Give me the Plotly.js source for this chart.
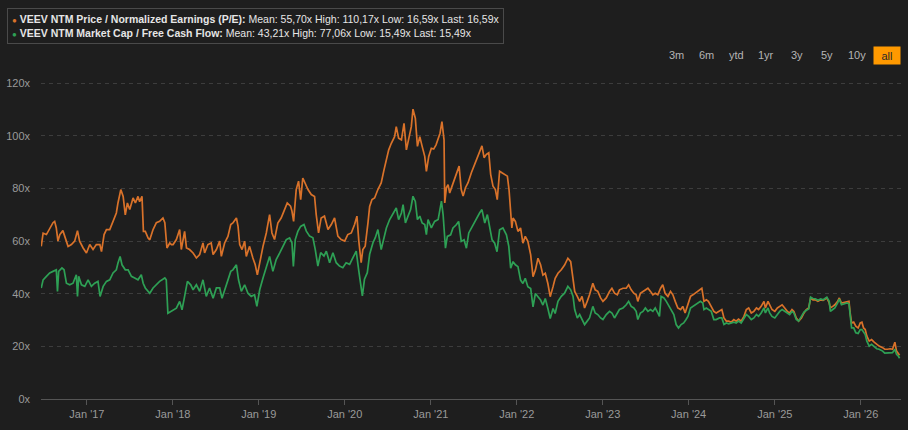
<!DOCTYPE html>
<html>
<head>
<meta charset="utf-8">
<script src="https://cdn.plot.ly/plotly-3.0.1.min.js"></script>
<style>
  html, body { margin: 0; padding: 0; background: #1e1e1e; }
  #chart { width: 908px; height: 430px; }
</style>
</head>
<body>
<div id="chart"></div>
<script>
// ---- Data (time as decimal years, values as multiples) ----
const PE_NAME = "VEEV NTM Price / Normalized Earnings (P/E)";
const FCF_NAME = "VEEV NTM Market Cap / Free Cash Flow";
const PE_STATS = ["55,70x", "110,17x", "16,59x", "16,59x"];
const FCF_STATS = ["43,21x", "77,06x", "15,49x", "15,49x"];
const Y_TICKS = [0, 20, 40, 60, 80, 100, 120];
const Y_TICK_LABELS = ["0x", "20x", "40x", "60x", "80x", "100x", "120x"];
const RANGE_BUTTONS = ["3m", "6m", "ytd", "1yr", "3y", "5y", "10y", "all"];

const PE_T = [
2016.472,2016.492,2016.531,2016.569,2016.608,2016.628,2016.647,2016.666,2016.686,2016.724,2016.744,2016.783,2016.821,2016.860,2016.891,2016.918,2016.957,2016.996,2017.035,2017.073,2017.112,2017.151,2017.170,2017.201,2017.228,2017.267,2017.306,2017.345,2017.364,2017.395,2017.422,2017.449,2017.473,2017.500,2017.538,2017.566,2017.597,2017.616,2017.643,2017.659,2017.682,2017.713,2017.732,2017.771,2017.810,2017.848,2017.887,2017.907,2017.934,2017.965,2017.984,
2018.003,2018.042,2018.081,2018.100,2018.139,2018.159,2018.197,2018.236,2018.275,2018.314,2018.352,2018.372,2018.410,2018.449,2018.469,2018.507,2018.546,2018.566,2018.604,2018.643,2018.674,2018.701,2018.740,2018.759,2018.779,2018.806,2018.837,2018.856,2018.895,2018.934,2018.961,2018.984,2019.011,2019.050,2019.089,2019.128,2019.155,2019.186,2019.224,2019.263,2019.294,2019.333,2019.372,2019.387,2019.407,2019.438,2019.465,
2019.488,2019.515,2019.542,2019.573,2019.612,2019.651,2019.670,2019.697,2019.728,2019.767,2019.806,2019.845,2019.883,2019.922,2019.961,2020.000,2020.038,2020.077,2020.116,2020.143,2020.166,2020.193,2020.213,2020.240,2020.271,2020.290,2020.318,2020.349,2020.387,2020.426,2020.457,2020.484,2020.511,2020.542,2020.581,2020.600,2020.628,2020.659,2020.690,2020.717,2020.744,2020.775,2020.794,2020.821,2020.845,2020.872,2020.899,2020.930,2020.949,2020.976,2021.007,
2021.035,2021.062,2021.108,2021.131,2021.155,
2021.162,2021.182,2021.201,2021.221,2021.248,2021.279,2021.310,2021.329,2021.356,2021.376,2021.403,2021.434,2021.473,2021.511,2021.542,2021.569,2021.597,2021.620,2021.647,2021.674,2021.697,2021.724,2021.752,2021.775,2021.802,2021.829,2021.860,2021.891,2021.911,2021.930,2021.945,2021.957,2021.984,2022.015,2022.046,2022.073,2022.100,2022.131,2022.162,2022.190,2022.217,2022.248,2022.279,2022.306,2022.333,2022.364,2022.391,2022.422,2022.449,
2022.480,2022.519,2022.558,2022.597,2022.628,2022.655,2022.674,2022.705,2022.732,2022.759,2022.790,2022.821,2022.848,2022.887,2022.914,2022.945,2022.976,2023.003,2023.042,2023.081,2023.108,2023.139,2023.170,2023.197,2023.236,2023.275,2023.302,2023.333,2023.364,2023.391,2023.410,2023.441,2023.469,2023.496,2023.527,2023.558,2023.585,2023.612,2023.643,2023.674,2023.701,2023.728,2023.759,2023.790,2023.817,2023.845,2023.876,2023.907,2023.934,2023.961,2023.992,
2024.023,2024.050,2024.077,2024.108,2024.139,2024.155,2024.178,2024.205,2024.232,2024.263,2024.294,2024.321,2024.360,2024.387,2024.411,2024.438,2024.465,2024.496,2024.527,2024.554,2024.581,2024.612,2024.643,2024.670,2024.697,2024.728,2024.759,2024.787,2024.814,2024.844,2024.876,2024.891,2024.922,2024.941,2024.969,2025.000,2025.031,2025.058,2025.085,2025.116,2025.147,2025.174,2025.201,2025.224,2025.252,2025.279,2025.310,2025.341,2025.368,2025.395,2025.418,2025.445,2025.472,2025.503,2025.535,2025.562,
2025.577,2025.608,2025.635,2025.647,2025.674,2025.701,2025.732,2025.751,2025.778,2025.809,2025.840,2025.864,2025.879,2025.895,2025.918,2025.945,2025.972,2025.995,2026.015,2026.034,2026.054,2026.073,2026.100,2026.127,2026.158,2026.189,2026.216,2026.255,2026.282,2026.313,2026.344,2026.371,2026.399,2026.418,2026.437,2026.453
];
const PE = [
58,63,62.5,65,67,67.5,65,60,62.5,64,62,58,58.7,60,64,60,57.4,55.5,58.7,56.8,58.7,58.7,56,62.5,64.4,64.4,67.5,70.7,74.5,79.6,77,70,74.5,72,76.4,74.5,77,75,77,63.7,63.7,61.2,60.5,64.4,67,67.5,68.8,67,57.4,59.3,58.7,
58.7,60.6,64.4,56.8,63.7,57.4,56.8,55.5,53.6,54.9,59.3,55.5,58.7,59.3,54.9,56.8,60,54.2,59.3,61.8,66.3,66.9,68.8,65.6,58.7,56.8,60,54.2,58,53.6,51,47.2,52.3,58,63.1,70.1,63.1,60.6,66.9,68.8,71.4,74.5,73.3,71.4,67.5,79.6,82.8,
75.8,84,82.1,79.6,77.7,77,70.1,63.1,68.8,69.5,64.4,66.3,68.8,61.9,60.6,60,62.5,63.1,66.3,69.5,60,51.8,56.8,58.1,67,73.2,75.8,76.4,79.6,82.1,87.1,91.5,94.7,97.2,99.7,103.5,99.1,98.5,104.8,94.7,98.5,103.5,110.17,106.7,96,99.7,96,92.2,86.5,92.2,95.3,
95,96.6,101,105.4,98.5,
74.5,80.3,81.5,78.3,80.9,84,87.3,88.5,79.6,77.1,80.3,82.2,86,89.2,91.7,93.6,96.2,91.7,93,93.6,85.4,80.9,79.6,75.8,86.6,86,85.4,84.7,79.6,70.1,65,68.8,67.5,63.7,65,59.2,61.8,59.9,54.8,46.5,49,53.5,51,47.1,47.8,43.9,38.9,42.7,45.9,
47.8,49.1,50.9,53.5,52.2,46.5,40.9,39,37.1,39,34.6,37.1,39.6,44,41.5,40.9,38.4,37.1,38.4,40.9,42.1,40.2,39.6,41.5,42.1,42.1,43.4,41.5,40.2,39.6,37.1,40.2,40.9,41.5,42.1,40.9,39.6,40.2,39.6,42.1,43.4,40.2,39,40.9,39.6,37.1,34.6,34,35.2,32.7,35.8,
39,39.6,40.2,40.9,41.8,42.1,37.1,37.7,37.1,35.2,33.3,32.7,33.3,34,30.8,29.6,29.6,29.2,30.2,29.6,30.4,29.6,31.4,34,34.6,32.7,33.3,34.6,34,35.2,37.1,34.6,37.1,35.8,34,33.3,34.6,35.2,35.8,34.6,33.3,32.7,34,33.3,30.8,29.6,30.8,32.7,34,34.6,38.4,37.7,37.7,37.1,37.7,37.5,
37.7,38.4,36.5,34.6,35.2,35.8,37.1,38.4,36.5,36.7,37.1,37.1,32.7,28.9,29.2,27.7,27,28.9,29.2,27,26.4,23.9,22,22.6,21.6,20.8,20.1,19.5,18.9,18.9,19.1,18.9,21.6,18.2,17.4,16.59
];

const FCF_T = [
2016.472,2016.492,2016.531,2016.569,2016.608,2016.647,2016.659,2016.674,2016.713,2016.736,2016.763,2016.802,2016.841,2016.879,2016.891,2016.907,2016.938,2016.976,2017.015,2017.054,2017.093,2017.131,2017.155,2017.190,2017.228,2017.267,2017.306,2017.345,2017.364,2017.387,2017.410,2017.449,2017.480,2017.519,2017.558,2017.597,2017.635,2017.655,2017.682,2017.732,2017.771,2017.810,2017.848,2017.907,2017.926,2017.945,2017.984,
2018.003,2018.042,2018.081,2018.108,2018.139,2018.170,2018.209,2018.236,2018.275,2018.314,2018.352,2018.391,2018.430,2018.469,2018.507,2018.546,2018.573,2018.604,2018.643,2018.674,2018.701,2018.740,2018.767,2018.798,2018.837,2018.876,2018.914,2018.953,2018.980,2019.011,2019.050,2019.089,2019.128,2019.166,2019.205,2019.244,2019.282,2019.321,2019.360,2019.387,2019.403,2019.426,2019.457,2019.488,
2019.527,2019.554,2019.593,2019.631,2019.659,2019.690,2019.721,2019.759,2019.787,2019.825,2019.864,2019.903,2019.942,2019.980,2020.019,2020.058,2020.097,2020.135,2020.162,2020.186,2020.205,2020.232,2020.263,2020.290,2020.329,2020.356,2020.387,2020.426,2020.457,2020.484,2020.523,2020.561,2020.600,2020.628,2020.659,2020.678,2020.705,2020.736,2020.767,2020.794,2020.821,2020.845,2020.872,2020.899,2020.930,2020.949,
2020.969,2021.007,2021.046,2021.085,2021.104,2021.124,2021.143,2021.170,2021.194,2021.232,2021.259,2021.298,2021.325,2021.356,2021.387,2021.414,2021.442,2021.473,2021.511,2021.542,2021.569,2021.597,2021.628,2021.659,2021.686,2021.713,2021.744,2021.771,2021.802,2021.841,2021.880,2021.907,2021.930,2021.957,2021.984,2022.015,2022.046,2022.073,2022.100,2022.131,2022.162,2022.190,2022.217,2022.248,2022.279,2022.306,2022.333,2022.364,2022.391,2022.422,2022.449,
2022.480,2022.519,2022.558,2022.597,2022.628,2022.655,2022.674,2022.705,2022.732,2022.759,2022.790,2022.821,2022.848,2022.887,2022.914,2022.945,2022.976,2023.003,2023.042,2023.081,2023.108,2023.139,2023.170,2023.197,2023.236,2023.275,2023.302,2023.333,2023.364,2023.391,2023.410,2023.441,2023.469,2023.496,2023.527,2023.558,2023.585,2023.612,2023.643,2023.662,2023.682,2023.713,2023.740,2023.767,2023.798,2023.829,2023.856,2023.883,2023.914,2023.945,2023.972,2023.992,
2024.023,2024.050,2024.077,2024.108,2024.139,2024.166,2024.178,2024.205,2024.232,2024.263,2024.294,2024.321,2024.360,2024.387,2024.411,2024.438,2024.465,2024.496,2024.527,2024.554,2024.581,2024.612,2024.643,2024.670,2024.697,2024.728,2024.759,2024.787,2024.814,2024.844,2024.876,2024.891,2024.922,2024.941,2024.969,2025.000,2025.031,2025.058,2025.085,2025.116,2025.147,2025.174,2025.201,2025.224,2025.252,2025.279,2025.310,2025.341,2025.368,2025.395,2025.418,2025.445,2025.472,2025.503,2025.535,2025.562,
2025.577,2025.608,2025.635,2025.647,2025.674,2025.701,2025.732,2025.751,2025.778,2025.809,2025.840,2025.864,2025.879,2025.895,2025.918,2025.945,2025.972,2025.995,2026.015,2026.034,2026.054,2026.073,2026.100,2026.127,2026.158,2026.189,2026.216,2026.255,2026.282,2026.313,2026.344,2026.371,2026.399,2026.418,2026.437,2026.453
];
const FCF = [
42.2,45.3,46.6,47.9,48.5,49.1,40.9,48.5,49.8,49.1,44,43.4,44,47.2,39,46.6,43.4,42.8,45.3,42.8,44,44.7,39,42.8,44.7,45.3,47.9,49.1,51.7,54.2,51,49.1,49.1,46.6,46,45.3,47.2,44,42.2,40.2,42.2,43.4,44.7,46,45.3,32.6,33.3,
33.9,34.5,37.1,33.9,39,44.7,43.4,41.5,43.4,40.9,45.3,39,42.2,38.3,42.2,42.2,38.3,41.5,45.3,48.5,49.1,51,45.3,40.9,43.4,40.2,39,39.6,35.2,41.5,46,50.4,54.2,48.5,53,55.5,58,60.6,61.2,59.3,50.4,60.6,63.7,65.6,
66.3,63.8,61.9,61.3,56.8,50.5,55.6,54.3,56.2,51.8,55.6,51.8,50.5,49.9,51.8,51.2,53.7,56.2,49.3,44.2,39.2,45.5,48,55,59.4,61.3,64.4,56.8,61.9,65,68.2,70.7,72.6,68.2,70.7,73.9,66.9,69.5,72,77.06,75.1,68.2,69.5,66.9,66.3,62.5,
68.2,65,67.5,68.2,72,75.2,70.1,57.3,61.8,62.4,65,66.2,67.5,59.9,60.5,57.3,63.1,65,66.9,69.4,70.7,72,66.9,70.1,65.6,60.5,59.2,56,64.3,65,62.4,58,49.7,52.2,51,50.3,45.2,43.9,45.9,42.7,42,35,40.1,38.9,37.6,35.7,38.2,34.4,30.6,34.4,32.5,
37.1,39,40.2,42.8,41.5,39,34,30.8,32.1,30.2,28.3,29.6,30.8,35.2,32.7,32.1,30.8,30.2,32.1,33.3,32.7,30.8,32.7,34,34.6,35.8,37.1,35.2,34.6,33.3,30.2,32.7,33.3,34.6,33.3,34,33.3,34.6,32.7,31.4,39,38.4,37.1,35.8,34,32.1,28.3,27,28.3,28.9,30.2,31.4,
34.6,35.2,35.8,36.5,37.1,36.5,34,34.6,34,33.3,30.2,30.2,30.8,30.8,28.3,28.9,28.6,28.9,29.2,28.9,29.6,28.9,30.8,32.1,31.4,30.2,30.8,32.1,31.4,32.7,34.6,32.7,34.6,32.7,31.4,30.8,32.1,33.3,34,33.3,32.7,32.1,33.3,32.7,30.2,29.6,31.4,33,33.7,34.2,38.7,38.2,38.1,37.5,38,37.7,
38,38.7,37.1,33.3,34,34.6,36.5,38,35.8,36.1,36.5,36.2,31.4,27,27,25.2,24.9,26.4,26.4,25.2,24.5,22,20.1,20.8,20.1,19.1,18.9,18.2,17.4,17.4,17.6,17.6,18.9,17,16.4,15.49
];

// ---- helpers ----
function toDate(t) {
  const y = Math.floor(t);
  const a = Date.UTC(y, 0, 1), b = Date.UTC(y + 1, 0, 1);
  return new Date(a + (t - y) * (b - a)).toISOString().slice(0, 10);
}

const ORANGE = "#d9722a";
const GREEN = "#2ea055";
const BG = "#1e1e1e";
const FONT = "Liberation Sans, Arial, Helvetica, sans-serif";

// plot geometry (pixels) used to place the overlay texts
const W = 908, H = 430, M = {l: 41, r: 7, t: 78, b: 31};
const PW = W - M.l - M.r, PH = H - M.t - M.b;
const px = x => (x - M.l) / PW;
const py = y => (H - M.b - y) / PH;

const traces = [
  {x: PE_T.map(toDate), y: PE, type: "scatter", mode: "lines", name: PE_NAME,
   line: {color: ORANGE, width: 1.7}, hoverinfo: "skip"},
  {x: FCF_T.map(toDate), y: FCF, type: "scatter", mode: "lines", name: FCF_NAME,
   line: {color: GREEN, width: 1.7}, hoverinfo: "skip"}
];

const statsText = s => `Mean: ${s[0]} High: ${s[1]} Low: ${s[2]} Last: ${s[3]}`;
const legendText =
  `<span style="color:${ORANGE};font-size:8px">●</span> <b>${PE_NAME}:</b> ${statsText(PE_STATS)}<br>` +
  `<span style="color:${GREEN};font-size:8px">●</span> <b>${FCF_NAME}:</b> ${statsText(FCF_STATS)}`;

const annotations = [{
  xref: "paper", yref: "paper", x: px(7), y: py(8), xanchor: "left", yanchor: "top",
  text: legendText, showarrow: false, align: "left",
  font: {family: FONT, size: 10.5, color: "#e6e6e6"},
  bordercolor: "#4a4a4a", borderwidth: 1, borderpad: 4, bgcolor: BG
}];

RANGE_BUTTONS.forEach((b, i) => {
  const active = b === "all";
  annotations.push({
    xref: "paper", yref: "paper", x: px(676 + i * 30.15), y: py(55),
    xanchor: "center", yanchor: "middle", text: b, showarrow: false,
    font: {family: FONT, size: 11, color: active ? "#2a2a2a" : "#b5b5b5"},
    bgcolor: active ? "#ff9900" : "rgba(0,0,0,0)",
    width: active ? 22 : null, height: active ? 13 : null, borderpad: 2
  });
});

const layout = {
  width: W, height: H,
  margin: M,
  paper_bgcolor: BG, plot_bgcolor: BG,
  showlegend: false,
  font: {family: FONT, size: 11, color: "#9a9a9a"},
  xaxis: {
    type: "date",
    range: [toDate(2016.469), toDate(2026.469)],
    tick0: "2017-01-01", dtick: "M12", tickformat: "%b '%y",
    showgrid: false, zeroline: false,
    showline: true, linecolor: "#555555", linewidth: 1,
    ticks: "outside", ticklen: 5, tickcolor: "#555555",
    tickfont: {family: FONT, size: 11, color: "#9a9a9a"},
    fixedrange: true
  },
  yaxis: {
    range: [0, 122],
    tickmode: "array", tickvals: Y_TICKS, ticktext: Y_TICK_LABELS,
    showgrid: true, gridcolor: "#3d3d3d", griddash: "4px,4px", gridwidth: 1,
    zeroline: false, showline: false, ticks: "",
    ticklabelstandoff: 10,
    tickfont: {family: FONT, size: 11, color: "#9a9a9a"},
    fixedrange: true
  },
  annotations: annotations
};

Plotly.newPlot("chart", traces, layout, {displayModeBar: false, staticPlot: true});
</script>
</body>
</html>
